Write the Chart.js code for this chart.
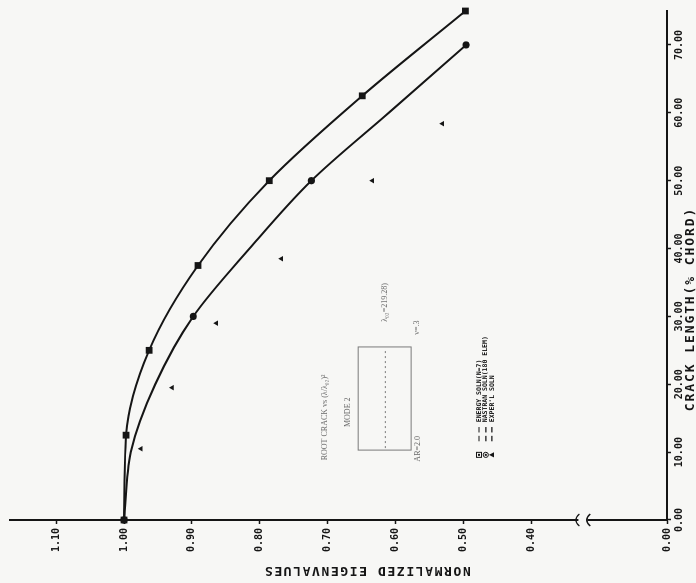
<!DOCTYPE html>
<html>
<head>
<meta charset="utf-8">
<script src="https://cdn.jsdelivr.net/npm/chart.js@4.4.0/dist/chart.umd.min.js"></script>
<style>
  html, body { margin: 0; padding: 0; width: 696px; height: 583px; overflow: hidden; background: #f7f7f5; }
  /* the scanned plot is turned on its side, so the chart is drawn upright and rotated */
  #wrap { position: absolute; left: 0; top: 0; width: 583px; height: 696px;
          transform-origin: 0 0; transform: translate(0px, 583px) rotate(-90deg); }
</style>
</head>
<body>
<div id="wrap"><canvas id="chart" width="583" height="696"></canvas></div>
<script>
// crack length (% chord) axis
const crackTicks = [0, 10, 20, 30, 40, 50, 60, 70];
const crackTickLabels = ["0.00", "10.00", "20.00", "30.00", "40.00", "50.00", "60.00", "70.00"];

// normalized eigenvalue axis (broken below 0.40, "0.00" sits at 0.2)
const eigenTicks = [0.2, 0.4, 0.5, 0.6, 0.7, 0.8, 0.9, 1.0, 1.1];
const eigenTickLabels = ["0.00", "0.40", "0.50", "0.60", "0.70", "0.80", "0.90", "1.00", "1.10"];

// energy solution (N=7)
const energyCrack = [0, 12.5, 25, 37.5, 50, 62.5, 75];
const energyEigen = [1.0, 0.997, 0.963, 0.891, 0.786, 0.649, 0.497];

// nastran solution (180 elem): marked points and the drawn curve
const nastranCrack = [0, 30, 50, 70];
const nastranEigen = [1.0, 0.898, 0.724, 0.496];
const nastranCurveCrack = [0, 10, 20, 30, 40, 50, 60, 70];
const nastranCurveEigen = [1.0, 0.99, 0.954, 0.898, 0.815, 0.724, 0.61, 0.496];

// experimental solution
const experCrack = [10.5, 19.5, 29.0, 38.5, 50.0, 58.4];
const experEigen = [0.975, 0.929, 0.864, 0.768, 0.634, 0.531];

const ink = "#151515";
const paper = "#f7f7f5";
const mono = "'DejaVu Sans Mono', monospace";

function pts(xs, ys) {
  return xs.map((x, i) => ({ x: x, y: ys[i] }));
}

// axis titles, inset sketch, legend and axis break
const notes = {
  id: "notes",
  afterDraw(chart) {
    const ctx = chart.ctx;
    const xs = chart.scales.x, ys = chart.scales.y;
    const px = c => xs.getPixelForValue(c);
    const py = e => ys.getPixelForValue(e);
    ctx.save();

    // axis titles (plotter lettering is wide, so letter spacing is added)
    ctx.fillStyle = ink;
    ctx.textBaseline = "middle";
    ctx.textAlign = "center";
    ctx.font = "bold 13px " + mono;
    ctx.letterSpacing = "1.9px";
    ctx.fillText("CRACK LENGTH(% CHORD)", 274, 690.5);
    ctx.save();
    ctx.translate(13, 367);
    ctx.rotate(-Math.PI / 2);
    ctx.letterSpacing = "1.6px";
    ctx.fillText("NORMALIZED EIGENVALUES", 0, 0);
    ctx.restore();
    ctx.letterSpacing = "0px";

    // axis break
    const axisX = chart.chartArea.left;
    const b1 = py(0.332), b2 = py(0.316);
    ctx.fillStyle = paper;
    ctx.fillRect(axisX - 3, b1 + 1, 6, b2 - b1 - 2);
    ctx.strokeStyle = ink;
    ctx.lineWidth = 1.3;
    [b1, b2].forEach(b => {
      ctx.beginPath();
      ctx.moveTo(axisX + 6, b + 2);
      ctx.quadraticCurveTo(axisX, b - 5, axisX - 6, b + 2);
      ctx.stroke();
    });

    // inset notes
    ctx.fillStyle = "#6a6a6a";
    ctx.strokeStyle = "#7a7a7a";
    ctx.textAlign = "left";
    ctx.font = "8px 'Liberation Serif', serif";
    ctx.fillText("ROOT CRACK vs (λ/λ₀₂)²", px(8.8), py(0.704));
    ctx.fillText("MODE 2", px(13.7), py(0.670));
    ctx.fillText("λ₀₂=219.28)", px(29.2), py(0.615));
    ctx.fillText("ν=.3", px(27.3), py(0.568));
    ctx.fillText("AR=2.0", px(8.6), py(0.567));
    ctx.lineWidth = 1;
    ctx.strokeRect(px(10.3), py(0.655), px(25.5) - px(10.3), py(0.577) - py(0.655));
    ctx.setLineDash([2, 3]);
    ctx.beginPath();
    ctx.moveTo(px(10.6), py(0.615));
    ctx.lineTo(px(25.2), py(0.615));
    ctx.stroke();
    ctx.setLineDash([]);

    // legend
    const rows = [
      { e: 0.477, text: "ENERGY SOLN(N=7)", mark: "square" },
      { e: 0.467, text: "NASTRAN SOLN(180 ELEM)", mark: "circle" },
      { e: 0.458, text: "EXPER'L SOLN", mark: "triangle" }
    ];
    ctx.fillStyle = ink;
    ctx.strokeStyle = ink;
    ctx.font = "bold 6.5px " + mono;
    rows.forEach(r => {
      const y = py(r.e), x = px(9.6);
      ctx.lineWidth = 1;
      if (r.mark === "square") {
        ctx.strokeRect(x - 2.5, y - 2.5, 5, 5);
        ctx.fillRect(x - 1, y - 1, 2, 2);
      } else if (r.mark === "circle") {
        ctx.beginPath(); ctx.arc(x, y, 2.6, 0, Math.PI * 2); ctx.stroke();
        ctx.fillRect(x - 1, y - 1, 2, 2);
      } else {
        ctx.beginPath();
        ctx.moveTo(x, y - 2.8); ctx.lineTo(x + 2.6, y + 2); ctx.lineTo(x - 2.6, y + 2);
        ctx.closePath(); ctx.fill();
      }
      ctx.lineWidth = 1.2;
      ctx.beginPath();
      ctx.moveTo(px(11.6), y); ctx.lineTo(px(12.4), y);
      ctx.moveTo(px(12.9), y); ctx.lineTo(px(13.7), y);
      ctx.stroke();
      ctx.fillText(r.text, px(14.4), y);
    });

    ctx.restore();
  }
};

document.addEventListener("DOMContentLoaded", function () {
  const ctx = document.getElementById("chart").getContext("2d");

  new Chart(ctx, {
    type: "scatter",
    data: {
      datasets: [
        {
          label: "ENERGY SOLN(N=7)",
          data: pts(energyCrack, energyEigen),
          showLine: true,
          clip: false,
          cubicInterpolationMode: "monotone",
          borderColor: ink,
          borderWidth: 2,
          backgroundColor: ink,
          pointStyle: "rect",
          pointRadius: 4.8,
          pointBorderWidth: 0
        },
        {
          label: "NASTRAN curve",
          data: pts(nastranCurveCrack, nastranCurveEigen),
          showLine: true,
          clip: false,
          cubicInterpolationMode: "monotone",
          borderColor: ink,
          borderWidth: 2,
          pointRadius: 0
        },
        {
          label: "NASTRAN SOLN(180 ELEM)",
          data: pts(nastranCrack, nastranEigen),
          showLine: false,
          clip: false,
          backgroundColor: ink,
          borderColor: ink,
          pointStyle: "circle",
          pointRadius: 3.6,
          pointBorderWidth: 0
        },
        {
          label: "EXPER'L SOLN",
          data: pts(experCrack, experEigen),
          showLine: false,
          clip: false,
          backgroundColor: ink,
          borderColor: ink,
          pointStyle: "triangle",
          pointRadius: 3.2,
          pointBorderWidth: 0
        }
      ]
    },
    options: {
      responsive: false,
      animation: false,
      layout: { padding: { top: 10, right: 11, bottom: 0, left: 0 } },
      plugins: {
        legend: { display: false },
        tooltip: { enabled: false }
      },
      scales: {
        x: {
          type: "linear",
          min: 0,
          max: 75,
          afterFit: s => { s.height = 29; },
          afterBuildTicks: s => { s.ticks = crackTicks.map(v => ({ value: v })); },
          border: { color: ink, width: 2 },
          grid: { drawOnChartArea: false, drawTicks: true, tickLength: 4, tickWidth: 1.5, tickColor: ink },
          ticks: {
            padding: 2,
            maxRotation: 0,
            color: ink,
            font: { family: mono, size: 10, weight: "bold" },
            callback: v => crackTickLabels[crackTicks.indexOf(v)]
          },
          title: { display: false }
        },
        y: {
          type: "linear",
          min: 0.2,
          max: 1.168,
          afterFit: s => { s.width = 63; },
          afterBuildTicks: s => { s.ticks = eigenTicks.map(v => ({ value: v })); },
          border: { color: ink, width: 2 },
          grid: { drawOnChartArea: false, drawTicks: true, tickLength: 4, tickWidth: 1.5, tickColor: ink },
          ticks: {
            padding: 4,
            color: ink,
            font: { family: mono, size: 10, weight: "bold" },
            callback: v => eigenTickLabels[eigenTicks.indexOf(v)]
          },
          title: { display: false }
        }
      }
    },
    plugins: [notes]
  });
});
</script>
</body>
</html>
